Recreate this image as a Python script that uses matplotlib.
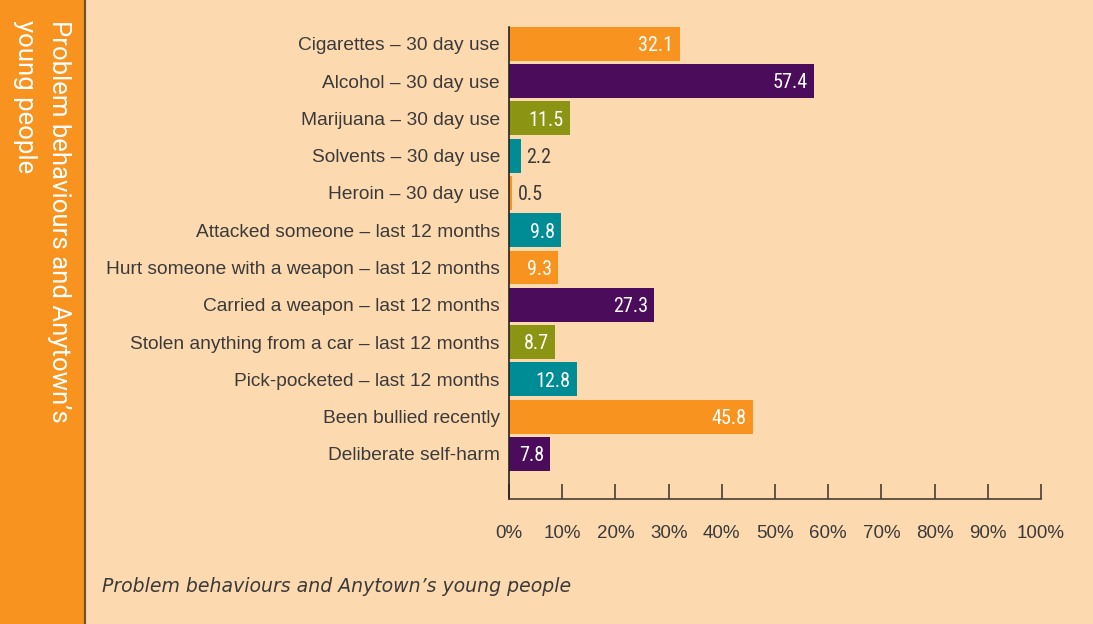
import matplotlib
matplotlib.use("Agg")
import matplotlib.pyplot as plt
from matplotlib.patches import Rectangle
from matplotlib.lines import Line2D
from matplotlib import font_manager
from matplotlib.font_manager import FontProperties

categories = [
    "Cigarettes – 30 day use",
    "Alcohol – 30 day use",
    "Marijuana – 30 day use",
    "Solvents – 30 day use",
    "Heroin – 30 day use",
    "Attacked someone – last 12 months",
    "Hurt someone with a weapon – last 12 months",
    "Carried a weapon – last 12 months",
    "Stolen anything from a car – last 12 months",
    "Pick-pocketed – last 12 months",
    "Been bullied recently",
    "Deliberate self-harm",
]
values = [32.1, 57.4, 11.5, 2.2, 0.5, 9.8, 9.3, 27.3, 8.7, 12.8, 45.8, 7.8]
tick_values = [0, 10, 20, 30, 40, 50, 60, 70, 80, 90, 100]
tick_labels = [f"{v}%" for v in tick_values]
title = "Problem behaviours and Anytown\u2019s young people"

ORANGE = "#F7931E"
PURPLE = "#4B0C5C"
OLIVE = "#8C9414"
TEAL = "#008C95"
BG = "#FDD9B0"
TEXT = "#3a3a3a"
AXIS = "#4a3e33"
bar_colors = [ORANGE, PURPLE, OLIVE, TEAL, ORANGE, TEAL, ORANGE,
              PURPLE, OLIVE, TEAL, ORANGE, PURPLE]

plt.rcParams["font.family"] = ["Liberation Sans", "DejaVu Sans"]


def narrow_font(size):
    """Pick a condensed face for the bar values if one is installed."""
    entries = font_manager.fontManager.ttflist
    names = {f.name for f in entries}
    for fam in ("Liberation Sans Narrow", "Roboto Condensed", "Open Sans Condensed",
                "DejaVu Sans Condensed", "Noto Sans Condensed"):
        if fam in names:
            return FontProperties(family=fam, size=size)
    for f in entries:
        if f.stretch in ("condensed", "semi-condensed", 700, 600) or (
                isinstance(f.stretch, str) and "condensed" in f.stretch):
            if f.style == "normal" and f.weight in (400, "normal", "regular"):
                return FontProperties(fname=f.fname, size=size)
    return FontProperties(family="Liberation Sans", size=size - 0.5)


W, H = 1093, 624
fig = plt.figure(figsize=(W / 100, H / 100), dpi=100)
fig.patch.set_facecolor(BG)

# orange sidebar with a thin rule on its right edge
fig.add_artist(Rectangle((0, 0), 84 / W, 1, transform=fig.transFigure,
                         facecolor=ORANGE, edgecolor="none", zorder=0))
fig.add_artist(Line2D([85 / W, 85 / W], [0, 1], transform=fig.transFigure,
                      color="#6e5238", lw=1.6))
fig.text(42 / W, 1 - 20 / H, "Problem behaviours and Anytown\u2019s\nyoung people",
         rotation=-90, rotation_mode="anchor", ha="left", va="center",
         color="white", fontsize=18.5, linespacing=1.5,
         family=["Roboto", "Liberation Sans"])

ax = fig.add_axes([509 / W, 1 - 499 / H, (1041 - 509) / W, (499 - 27) / H])
ax.set_facecolor(BG)
ypos = list(range(len(categories)))
ax.barh(ypos, values, height=0.91, color=bar_colors, zorder=2)
ax.set_xlim(0, 100)
ax.set_ylim(12.21, -0.45)

ax.set_yticks(ypos)
ax.set_yticklabels(categories, fontsize=13.8, color=TEXT)
ax.tick_params(axis="y", length=0, pad=6.5)
ax.set_xticks(tick_values)
ax.set_xticklabels(tick_labels, fontsize=13.5, color=TEXT)
ax.tick_params(axis="x", direction="in", length=11, width=1.2, color=AXIS, pad=19)

for s in ("top", "right"):
    ax.spines[s].set_visible(False)
ax.spines["left"].set_color("#222222")
ax.spines["left"].set_linewidth(1.2)
ax.spines["bottom"].set_color(AXIS)
ax.spines["bottom"].set_linewidth(1.2)

vfont = narrow_font(14.5)
for y, v in zip(ypos, values):
    label = f"{v}"
    if v >= 5:
        ax.text(v - 1.2, y + 0.05, label, ha="right", va="center", color="white",
                fontproperties=vfont, zorder=3)
    else:
        ax.text(v + 1.1, y + 0.05, label, ha="left", va="center", color=TEXT,
                fontproperties=vfont, zorder=3)

fig.text(102 / W, 1 - 586 / H, title, ha="left", va="center", style="italic",
         fontsize=13.6, color=TEXT, family=["DejaVu Sans"])

fig.savefig("out.png", dpi=100, facecolor=BG)
